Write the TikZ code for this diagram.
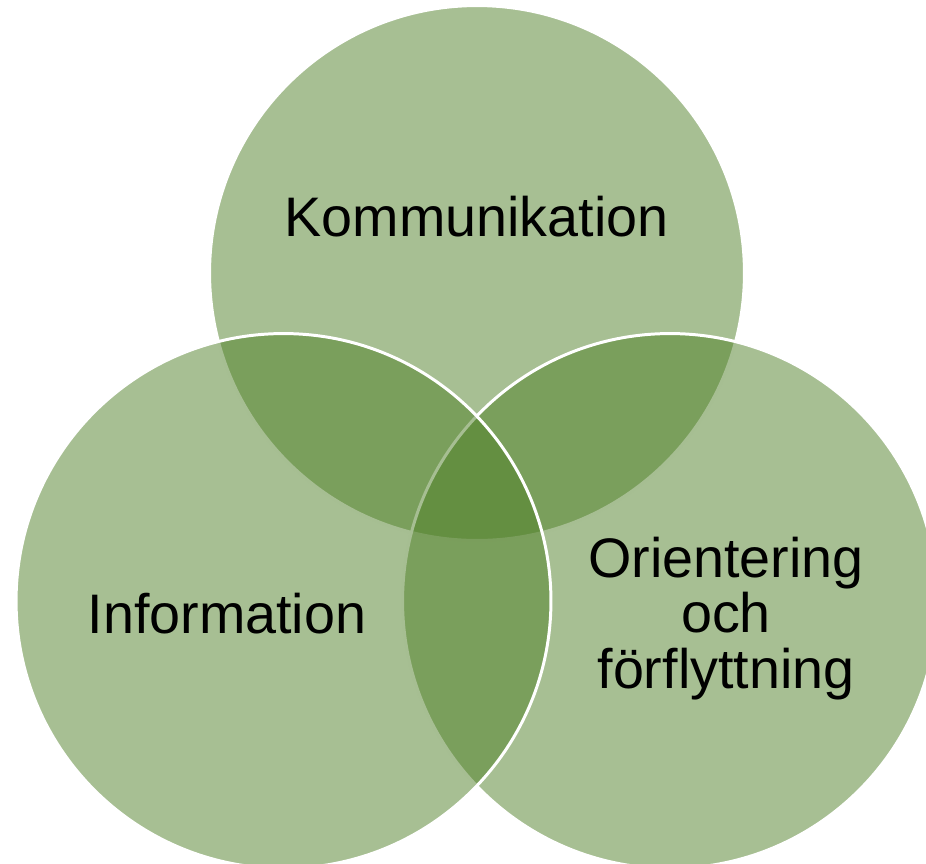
\documentclass[tikz,border=0pt]{standalone}
\usepackage{fontspec}
\setmainfont{Liberation Sans}
\definecolor{vennGreen}{RGB}{79,127,39}

\begin{document}
\begin{tikzpicture}[
			x=0.02cm, y=-0.02cm,
			vennCircle/.style={draw=white, line width=1.7pt, fill=vennGreen, fill opacity=0.5, shape=circle, minimum size=10.7cm, inner sep=0pt},  % Half transparent disc
			vennText/.style={font=\fontsize{31.7}{31.5}\selectfont, text=black, inner sep=0pt, align=center, anchor=base}
		]
		\useasboundingbox (0,0) rectangle (926,863);

		% Circles, drawn top, right, left
		\node[vennCircle] (Komm) at (477,273) {};
		\node[vennCircle] (Orient) at (670,601) {};
		\node[vennCircle] (Info) at (283.5,601) {};

		% Labels (base is the last line)
		\node[vennText] (KommText) at (476.5,236.7) {Kommunikation};
		\node[vennText] (InfoText) at (227,633) {Information};
		\node[vennText] (OrientText) at (726,688) {Orientering\\och\\förflyttning};
	\end{tikzpicture}
\end{document}
